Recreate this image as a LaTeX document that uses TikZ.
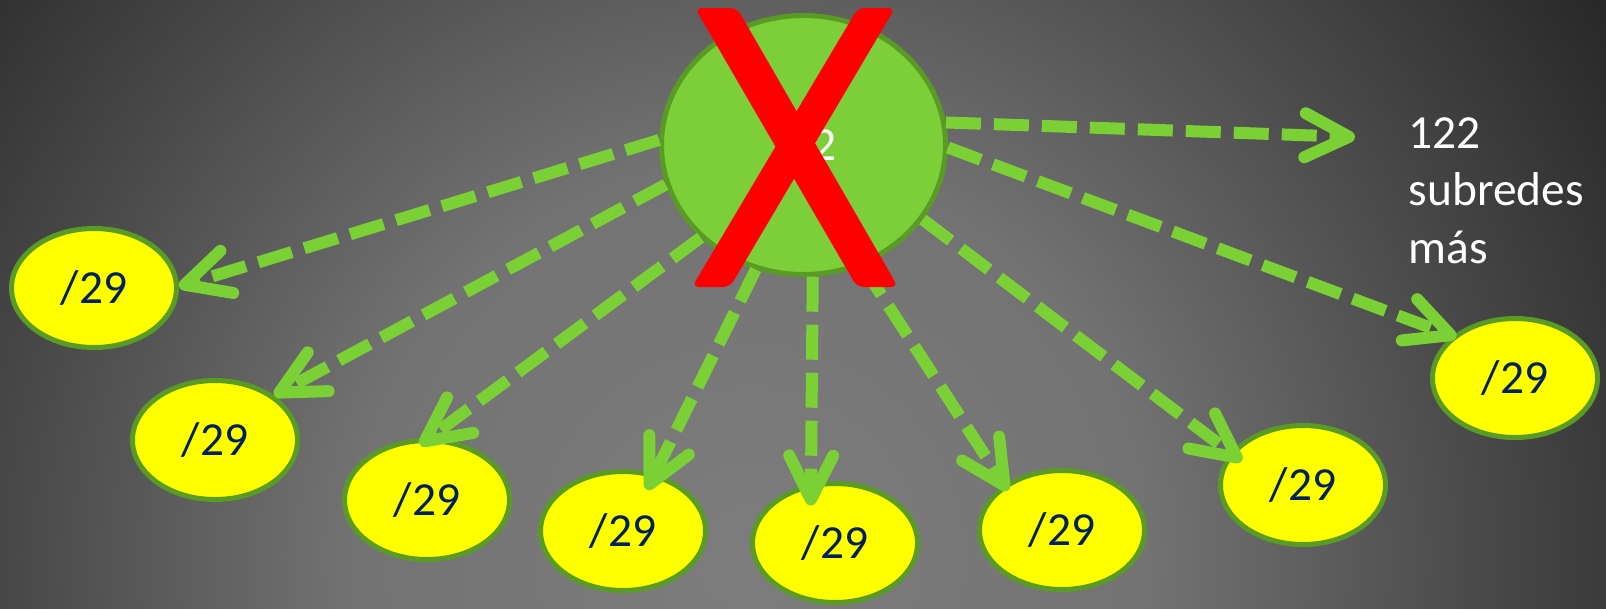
\documentclass[tikz,border=0pt]{standalone}
\usepackage{fontspec}
\setmainfont{Carlito}
\usepackage{tikz}
\usetikzlibrary{shapes.geometric,arrows.meta}

\definecolor{netgreen}{RGB}{124,207,56}
\definecolor{rimgreen}{RGB}{90,155,38}
\definecolor{arrowgreen}{RGB}{122,208,52}
\definecolor{maskblue}{RGB}{0,32,96}
\definecolor{subyellow}{RGB}{255,255,0}
\definecolor{crossred}{RGB}{255,0,0}
\pgfdeclareradialshading{backdrop}{\pgfpoint{0bp}{0bp}}{rgb(0bp)=(0.49,0.49,0.49); rgb(9bp)=(0.45,0.45,0.45); rgb(17bp)=(0.28,0.28,0.28); rgb(23.2bp)=(0.155,0.155,0.155); rgb(25bp)=(0.14,0.14,0.14); rgb(50bp)=(0.14,0.14,0.14)}

\begin{document}
\begin{tikzpicture}[
		subnet/.style={ellipse, draw=rimgreen, line width=0.05cm, fill=subyellow, minimum width=1.65cm, minimum height=1.19cm, inner sep=0pt, text=maskblue, font=\fontsize{13.5}{16.3}\selectfont},
		arr/.style={arrowgreen, line width=0.12cm, dash pattern=on 0.35cm off 0.13cm, -{Straight Barb[length=0.44cm, width=0.44cm, round]}}
	]
				\useasboundingbox (0,0) rectangle (16.06,6.08);
				\begin{scope}
					\clip (0,0) rectangle (16.06,6.08);
					\shade[shading=backdrop] (-3.5,-10.5) rectangle (18.5,11.5);
				\end{scope}
				% the /22 block and its /29 pieces
				\node[ellipse, draw=rimgreen, line width=0.05cm, fill=netgreen, minimum width=2.84cm, minimum height=2.59cm, inner sep=0pt, text=white, font=\fontsize{13.5}{16.3}\selectfont] (net) at (8.035,4.63) {/22};
				\node[subnet] (s1) at (0.94,3.20) {/29};
				\node[subnet] (s2) at (2.15,1.68) {/29};
				\node[subnet] (s3) at (4.27,1.08) {/29};
				\node[subnet] (s4) at (6.23,0.77) {/29};
				\node[subnet] (s5) at (8.35,0.65) {/29};
				\node[subnet] (s6) at (10.62,0.78) {/29};
				\node[subnet] (s7) at (13.03,1.23) {/29};
				\node[subnet] (s8) at (15.15,2.30) {/29};
				\node[text=white, align=left, anchor=north west, inner sep=0pt, font=\fontsize{13.5}{16.3}\selectfont] (more) at (14.08,4.91) {122\\subredes\\más};
				\coordinate (tipmore) at (13.55,4.71);
				% arrows
				\draw[arr] (net.178) -- (s1.1);
				\draw[arr] (net.196.5) -- (s2.37);
				\draw[arr, shorten >=-0.115cm] (net.222) -- (s3.88);
				\draw[arr, shorten >=-0.18cm] (net.249.5) -- (s4.61);
				\draw[arr, shorten >=-0.22cm] (net.274) -- (s5.112);
				\draw[arr, shorten >=-0.07cm] (net.296) -- (s6.142);
				\draw[arr, shorten >=-0.14cm] (net.328) -- (s7.156);
				\draw[arr, shorten >=-0.04cm] (net.359) -- (s8.146);
				\draw[arr] (net.9) -- (tipmore);
				% the cross
				\fill[crossred, rounded corners=2pt] (6.95,6.00) -- (7.37,6.00) -- (8.98,3.21) -- (8.57,3.21) -- cycle;
				\fill[crossred, rounded corners=2pt] (8.58,6.00) -- (8.95,6.00) -- (7.30,3.21) -- (6.92,3.21) -- cycle;
\end{tikzpicture}
\end{document}
